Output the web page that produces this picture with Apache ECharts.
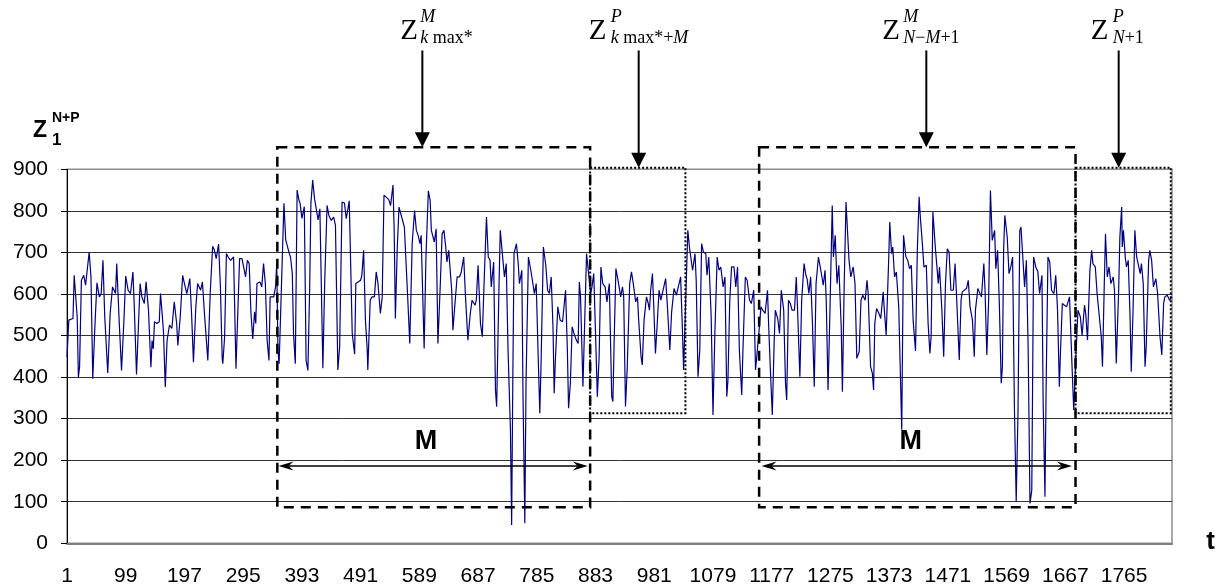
<!DOCTYPE html>
<html>
<head>
<meta charset="utf-8">
<script src="https://cdn.jsdelivr.net/npm/echarts@6/dist/echarts.min.js"></script>
<style>
html,body{margin:0;padding:0;background:#fff;}
#c{width:1228px;height:587px;}
</style>
</head>
<body>
<div id="c"></div>
<script>
// ---- data ----
const N_POINTS = 1845;                       // t = 1 .. 1845
const categories = Array.from({length: N_POINTS}, (_, k) => String(k + 1));
const xLabelStep = 98;                       // labels 1, 99, 197, ... 1765
const yMin = 0, yMax = 900, yStep = 100;

// [position on category axis (t-1), Z value]
const zSeries = [
[0,448],[3,537],[10,541],[12,645],[14,645],[17,545],[19,400],[21,425],[24,633],[28,645],
[31,621],[34,617],[37,701],[40,641],[43,396],[47,537],[50,627],[54,593],[57,601],[60,681],
[63,545],[68,410],[72,553],[76,617],[81,601],[83,673],[87,537],[91,416],[95,537],[98,643],
[102,609],[106,601],[110,653],[112,581],[116,406],[120,553],[122,625],[125,593],[129,577],[132,629],
[136,561],[140,424],[142,488],[144,468],[146,533],[150,529],[154,533],[156,601],[159,549],[161,509],
[164,376],[167,488],[171,525],[175,517],[179,581],[183,529],[185,476],[189,545],[193,645],[196,625],
[200,601],[205,637],[208,549],[211,436],[215,569],[218,625],[223,609],[226,629],[229,561],[235,440],
[239,601],[243,715],[246,705],[249,685],[253,720],[256,617],[259,444],[260,432],[263,496],[266,697],
[269,689],[273,681],[275,681],[278,689],[282,420],[284,420],[288,685],[292,685],[295,685],[298,641],
[301,681],[304,673],[307,553],[310,492],[313,557],[315,529],[317,625],[322,629],[325,617],[328,673],
[331,625],[334,488],[337,440],[339,593],[345,593],[348,617],[350,673],[352,464],[354,432],[357,428],
[362,818],[365,730],[367,730],[371,697],[373,689],[376,649],[378,504],[381,432],[384,850],[387,826],
[389,818],[392,782],[396,810],[399,440],[402,416],[405,617],[407,818],[410,874],[413,830],[416,826],
[419,778],[422,805],[427,421],[430,625],[434,813],[437,789],[441,777],[445,785],[448,765],[452,417],
[455,473],[459,821],[463,819],[466,781],[471,824],[476,505],[480,455],[482,625],[485,629],[490,633],
[492,645],[495,705],[498,537],[501,466],[502,417],[506,585],[509,593],[513,593],[516,653],[519,625],
[523,553],[526,593],[529,838],[532,842],[537,827],[540,813],[544,862],[546,753],[548,541],[551,705],
[554,809],[557,793],[560,789],[563,761],[565,757],[568,609],[572,481],[576,721],[580,801],[583,753],
[586,741],[589,721],[591,741],[596,469],[599,689],[603,848],[606,825],[608,753],[610,749],[613,725],
[616,757],[619,481],[623,625],[626,745],[629,753],[632,713],[634,677],[637,705],[642,609],[644,513],
[647,569],[651,641],[655,641],[658,653],[662,689],[665,593],[669,489],[673,553],[676,585],[681,573],
[683,585],[686,669],[690,529],[693,497],[696,625],[700,785],[703,689],[706,681],[708,617],[712,677],
[715,369],[717,329],[721,625],[723,753],[726,705],[730,641],[733,673],[736,465],[740,273],[742,44],
[744,401],[746,697],[750,721],[753,673],[755,625],[759,657],[761,353],[764,48],[766,385],[770,689],
[774,657],[777,657],[780,601],[783,625],[786,465],[789,313],[791,425],[795,713],[799,669],[802,609],
[805,601],[808,641],[811,521],[813,361],[815,441],[819,569],[821,569],[823,537],[827,533],[832,609],
[835,465],[837,325],[840,385],[843,521],[846,505],[850,489],[853,481],[855,629],[857,593],[861,377],
[864,537],[867,697],[871,641],[874,601],[876,617],[879,649],[882,505],[885,353],[888,449],[891,665],
[894,625],[898,617],[901,581],[905,625],[909,353],[911,341],[913,481],[916,661],[920,629],[924,593],
[927,617],[929,593],[932,329],[935,425],[939,625],[942,653],[945,625],[949,581],[952,593],[954,537],
[958,449],[960,429],[963,537],[967,593],[970,577],[972,561],[974,609],[977,649],[979,577],[982,457],
[985,529],[988,609],[991,585],[994,585],[999,637],[1002,569],[1006,465],[1009,557],[1013,613],[1017,597],
[1020,593],[1024,641],[1027,513],[1029,417],[1032,417],[1036,753],[1039,709],[1042,713],[1044,657],[1048,697],
[1050,633],[1053,401],[1056,465],[1059,721],[1062,701],[1066,697],[1068,645],[1071,689],[1075,545],[1078,309],
[1081,497],[1085,689],[1088,657],[1091,665],[1095,617],[1098,641],[1101,353],[1103,393],[1106,585],[1109,665],
[1113,665],[1116,617],[1119,665],[1122,465],[1126,357],[1128,465],[1132,641],[1135,633],[1139,585],[1142,577],
[1146,609],[1149,417],[1152,417],[1155,513],[1158,569],[1161,561],[1165,553],[1169,609],[1171,521],[1174,409],
[1177,309],[1180,481],[1182,561],[1186,541],[1189,505],[1192,609],[1196,561],[1199,385],[1201,345],[1204,585],
[1207,577],[1210,561],[1214,561],[1217,641],[1219,569],[1223,401],[1226,585],[1230,673],[1233,645],[1235,637],
[1238,601],[1241,641],[1244,529],[1247,377],[1250,625],[1254,689],[1258,657],[1262,621],[1265,657],[1267,585],
[1270,369],[1273,545],[1277,813],[1279,689],[1282,741],[1285,625],[1288,669],[1292,521],[1294,365],[1297,625],
[1300,821],[1303,737],[1305,681],[1308,641],[1312,665],[1315,625],[1318,445],[1322,461],[1325,585],[1328,597],
[1332,585],[1335,633],[1337,601],[1341,425],[1344,409],[1346,369],[1348,529],[1351,565],[1355,553],[1358,541],
[1362,605],[1364,561],[1367,501],[1371,673],[1373,773],[1376,697],[1378,713],[1381,641],[1384,653],[1388,569],
[1393,273],[1396,741],[1400,689],[1403,681],[1406,661],[1409,669],[1412,537],[1416,463],[1419,705],[1422,834],
[1424,785],[1426,789],[1427,729],[1430,665],[1434,669],[1437,529],[1440,457],[1442,497],[1445,797],[1449,713],
[1451,717],[1454,625],[1456,665],[1460,561],[1463,449],[1466,625],[1469,709],[1472,701],[1475,609],[1479,609],
[1482,673],[1485,577],[1489,441],[1492,585],[1494,605],[1497,609],[1501,613],[1504,633],[1507,569],[1511,537],
[1514,449],[1516,561],[1520,613],[1523,609],[1526,593],[1530,673],[1532,609],[1535,453],[1538,585],[1541,849],
[1544,729],[1548,753],[1550,661],[1553,705],[1556,569],[1559,385],[1561,425],[1563,705],[1565,789],[1569,737],
[1572,649],[1575,665],[1578,689],[1581,329],[1584,100],[1587,313],[1590,753],[1592,761],[1595,689],[1598,617],
[1601,681],[1604,465],[1607,96],[1610,128],[1613,689],[1617,663],[1620,655],[1623,601],[1627,645],[1629,337],
[1632,112],[1634,385],[1637,689],[1640,677],[1643,609],[1647,601],[1650,645],[1653,561],[1656,377],[1658,465],
[1661,577],[1664,581],[1668,569],[1670,569],[1673,593],[1677,433],[1680,321],[1683,425],[1687,561],[1691,545],
[1694,501],[1698,573],[1700,553],[1703,489],[1707,657],[1710,705],[1712,673],[1716,665],[1719,601],[1722,601],
[1726,497],[1728,425],[1731,625],[1733,745],[1736,641],[1739,665],[1742,625],[1746,641],[1748,609],[1751,433],
[1755,609],[1757,737],[1760,809],[1761,713],[1763,753],[1766,689],[1768,665],[1771,681],[1774,545],[1776,413],
[1779,561],[1782,753],[1785,689],[1788,685],[1791,649],[1793,673],[1796,625],[1799,425],[1801,473],[1805,681],
[1807,705],[1810,681],[1813,617],[1817,637],[1820,601],[1824,497],[1827,453],[1830,577],[1832,593],[1836,597],
[1840,585],[1844,593]
];

// annotation windows (data space: t position, Z value)
const windowBoxes = [
  {t0: 351,  t1: 873,  z0: 87,  z1: 953, kind: 'dashed'},
  {t0: 873,  t1: 1032, z0: 313, z1: 904, kind: 'dotted'},
  {t0: 1155, t1: 1683, z0: 87,  z1: 953, kind: 'dashed'},
  {t0: 1683, t1: 1842, z0: 313, z1: 904, kind: 'dotted'}
];
const spanArrows = [
  {t0: 353,  t1: 869,  z: 186, label: 'M', labelT: 599,  labelZ: 244},
  {t0: 1159, t1: 1677, z: 186, label: 'M', labelT: 1408, labelZ: 244}
];
const pointerArrows = [
  {t: 593,  zTop: 1186, zTip: 953, sup: '{i|M}', sub: '{i|k}{n| max*}',        zDx: -22, sDx: -2},
  {t: 954,  zTop: 1186, zTip: 904, sup: '{i|P}', sub: '{i|k}{n| max*+}{i|M}',  zDx: -50, sDx: -28},
  {t: 1434, zTop: 1186, zTip: 953, sup: '{i|M}', sub: '{i|N}{n|\u2212}{i|M}{n|+1}', zDx: -44, sDx: -23},
  {t: 1755, zTop: 1186, zTip: 904, sup: '{i|P}', sub: '{i|N}{n|+1}',           zDx: -28, sDx: -6}
];

// ---- chart ----
const chart = echarts.init(document.getElementById('c'), null, {renderer: 'canvas'});
const SANS = '"Liberation Sans", Arial, sans-serif';
const SERIF = '"Liberation Serif", "Times New Roman", serif';

const option = {
  animation: false,
  backgroundColor: '#fff',
  textStyle: {fontFamily: SANS},
  grid: {
    left: 67, right: 56, top: 169.3, bottom: 43.7,
    containLabel: false, outerBoundsMode: 'none',
    show: true, borderColor: '#8c8c8c', borderWidth: 1.5, backgroundColor: 'transparent'
  },
  xAxis: {
    type: 'category',
    data: categories,
    boundaryGap: false,
    axisLine: {show: true, lineStyle: {color: '#808080', width: 2}},
    axisTick: {show: false},
    axisLabel: {
      interval: xLabelStep - 1,
      margin: 22, color: '#000', fontSize: 21, fontFamily: SANS
    },
    splitLine: {show: false}
  },
  yAxis: {
    type: 'value', min: yMin, max: yMax, interval: yStep,
    axisLine: {show: true, lineStyle: {color: '#000', width: 1}},
    axisTick: {show: true, length: 6, lineStyle: {color: '#000', width: 1}},
    axisLabel: {margin: 19, color: '#000', fontSize: 21, fontFamily: SANS},
    splitLine: {show: true, showMinLine: false, showMaxLine: false, lineStyle: {color: '#333', width: 1}}
  },
  series: [{
    type: 'line',
    data: zSeries,
    showSymbol: false,
    symbol: 'none',
    silent: true,
    lineStyle: {color: '#000080', width: 1.2},
    z: 3
  }]
};
chart.setOption(option);

const P = (t, z) => chart.convertToPixel({gridIndex: 0}, [t, z]);
const g = [];
const Z = 100;

windowBoxes.forEach(b => {
  const a = P(b.t0, b.z1), c = P(b.t1, b.z0);
  const dotted = b.kind === 'dotted';
  g.push({
    type: 'rect', silent: true, z: Z,
    shape: {x: a[0], y: a[1], width: c[0] - a[0], height: c[1] - a[1]},
    style: {fill: null, stroke: '#000', lineWidth: dotted ? 2 : 2.5, lineDash: dotted ? [2, 2] : [10, 7]}
  });
});

spanArrows.forEach(s => {
  const a = P(s.t0, s.z), c = P(s.t1, s.z);
  const y = a[1];
  g.push({type: 'line', silent: true, z: Z,
    shape: {x1: a[0] + 8, y1: y, x2: c[0] - 8, y2: y},
    style: {stroke: '#000', lineWidth: 1.5}});
  g.push({type: 'polygon', silent: true, z: Z,
    shape: {points: [[a[0], y], [a[0] + 15, y - 4.5], [a[0] + 10, y], [a[0] + 15, y + 4.5]]},
    style: {fill: '#000'}});
  g.push({type: 'polygon', silent: true, z: Z,
    shape: {points: [[c[0], y], [c[0] - 15, y - 4.5], [c[0] - 10, y], [c[0] - 15, y + 4.5]]},
    style: {fill: '#000'}});
  const lp = P(s.labelT, s.labelZ);
  g.push({type: 'text', silent: true, z: Z, x: lp[0], y: lp[1],
    style: {text: s.label, font: 'bold 27px ' + SANS, fill: '#000', align: 'center', verticalAlign: 'middle'}});
});

const richStyle = {
  i: {fontStyle: 'italic', fontFamily: SERIF, fontSize: 18, fill: '#000'},
  n: {fontStyle: 'normal', fontFamily: SERIF, fontSize: 18, fill: '#000'}
};
pointerArrows.forEach(p => {
  const top = P(p.t, p.zTop), tip = P(p.t, p.zTip);
  const x = tip[0];
  g.push({type: 'line', silent: true, z: Z,
    shape: {x1: x, y1: top[1], x2: x, y2: tip[1] - 12},
    style: {stroke: '#000', lineWidth: 2}});
  g.push({type: 'polygon', silent: true, z: Z,
    shape: {points: [[x - 7.5, tip[1] - 15], [x + 7.5, tip[1] - 15], [x, tip[1]]]},
    style: {fill: '#000'}});
  g.push({type: 'text', silent: true, z: Z, x: x + p.zDx, y: 31,
    style: {text: 'Z', font: '29px ' + SERIF, fill: '#000', align: 'left', verticalAlign: 'middle'}});
  g.push({type: 'text', silent: true, z: Z, x: x + p.sDx, y: 17,
    style: {text: p.sup, rich: richStyle, align: 'left', verticalAlign: 'middle'}});
  g.push({type: 'text', silent: true, z: Z, x: x + p.sDx, y: 38,
    style: {text: p.sub, rich: richStyle, align: 'left', verticalAlign: 'middle'}});
});

// axis titles
g.push({type: 'text', silent: true, z: Z, x: 33, y: 131,
  style: {text: 'Z', font: 'bold 23px ' + SANS, fill: '#000', align: 'left', verticalAlign: 'middle'}});
g.push({type: 'text', silent: true, z: Z, x: 52, y: 118,
  style: {text: 'N+P', font: 'bold 14px ' + SANS, fill: '#000', align: 'left', verticalAlign: 'middle'}});
g.push({type: 'text', silent: true, z: Z, x: 52, y: 140,
  style: {text: '1', font: 'bold 17px ' + SANS, fill: '#000', align: 'left', verticalAlign: 'middle'}});
g.push({type: 'text', silent: true, z: Z, x: 1210.5, y: 542,
  style: {text: 't', font: 'bold 26px ' + SANS, fill: '#000', align: 'center', verticalAlign: 'middle'}});

chart.setOption({graphic: {elements: g}});
</script>
</body>
</html>
